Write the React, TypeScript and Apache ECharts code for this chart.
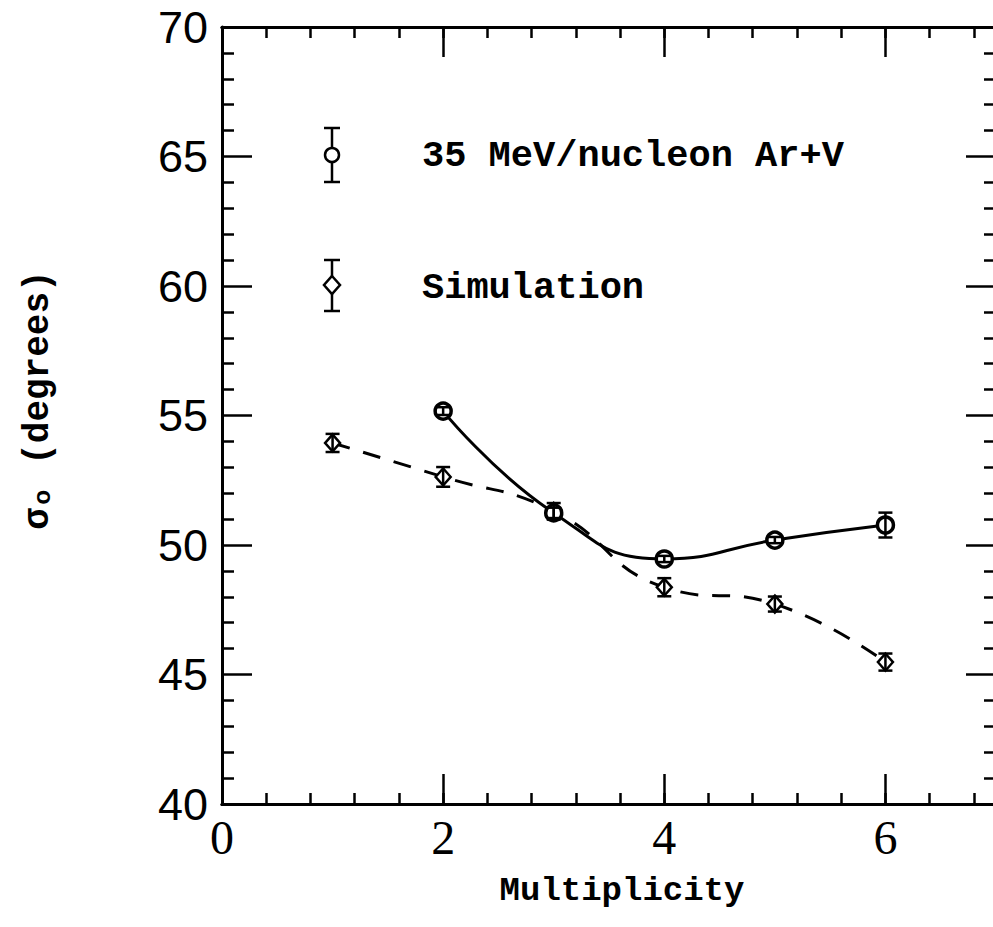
import React, { useEffect, useRef } from "react";
import * as echarts from "echarts";

// Experimental data: 35 MeV/nucleon Ar+V
const expX = [2, 3, 4, 5, 6];
const expY = [55.17, 51.24, 49.46, 50.19, 50.77];
const expErr = [0.15, 0.2, 0.12, 0.12, 0.48];

// Simulation
const simX = [1, 2, 3, 4, 5, 6];
const simY = [53.94, 52.63, 51.3, 48.37, 47.72, 45.48];
const simErr = [0.35, 0.38, 0.32, 0.35, 0.29, 0.33];

const seriesNames = ["35 MeV/nucleon Ar+V", "Simulation"];
const xTitle = "Multiplicity";
const yTitle = "σₒ (degrees)";

const X_MIN = 0;
const X_MAX = 7;
const Y_MIN = 40;
const Y_MAX = 70;

const BLACK = "#000";
const MONO = "'Liberation Mono', 'DejaVu Sans Mono', monospace";

const errRender = (params: any, api: any) => {
  const x = api.value(0);
  const y = api.value(1);
  const e = api.value(2);
  const top = api.coord([x, y + e]);
  const bot = api.coord([x, y - e]);
  const hw = 7;
  const style = { stroke: BLACK, lineWidth: 2.5 };
  return {
    type: "group",
    children: [
      { type: "line", shape: { x1: top[0], y1: top[1], x2: bot[0], y2: bot[1] }, style },
      { type: "line", shape: { x1: top[0] - hw, y1: top[1], x2: top[0] + hw, y2: top[1] }, style },
      { type: "line", shape: { x1: bot[0] - hw, y1: bot[1], x2: bot[0] + hw, y2: bot[1] }, style },
    ],
  };
};

const makeX = (position: "top" | "bottom", interval: number, tickLen: number, labels: boolean, name?: string) => ({
  type: "value",
  position,
  min: X_MIN,
  max: X_MAX,
  interval,
  name: name ?? "",
  nameLocation: "middle",
  nameGap: 70,
  nameTextStyle: {
    fontFamily: MONO,
    fontSize: 34,
    fontWeight: "bold",
    color: BLACK,
    padding: [0, 0, 0, 26],
  },
  axisLine: { show: true, onZero: false, lineStyle: { color: BLACK, width: 3 } },
  axisTick: { show: true, inside: true, length: tickLen, lineStyle: { color: BLACK, width: 2.5 } },
  axisLabel: {
    show: labels,
    showMaxLabel: false,
    margin: 9,
    fontFamily: "'Liberation Serif', 'DejaVu Serif', serif",
    fontSize: 48,
    color: BLACK,
  },
  splitLine: { show: false },
});

const makeY = (position: "left" | "right", labels: boolean) => ({
  type: "value",
  position,
  min: Y_MIN,
  max: Y_MAX,
  interval: 5,
  axisLine: { show: true, onZero: false, lineStyle: { color: BLACK, width: 3 } },
  axisTick: { show: true, inside: true, length: 30, lineStyle: { color: BLACK, width: 2.5 } },
  minorTick: { show: true, splitNumber: 5, length: 12, lineStyle: { color: BLACK, width: 2.5 } },
  axisLabel: {
    show: labels,
    margin: 14,
    fontFamily: "'Liberation Sans', Arial, sans-serif",
    fontSize: 45,
    color: BLACK,
  },
  splitLine: { show: false },
  minorSplitLine: { show: false },
});

const legendGraphic = () => {
  const lx = 332;
  const hw = 8;
  const st = { stroke: BLACK, lineWidth: 2.5 };
  const bar = (y1: number, y2: number) => [
    { type: "line", shape: { x1: lx, y1, x2: lx, y2 }, style: st },
    { type: "line", shape: { x1: lx - hw, y1, x2: lx + hw, y2: y1 }, style: st },
    { type: "line", shape: { x1: lx - hw, y1: y2, x2: lx + hw, y2 }, style: st },
  ];
  const textStyle = (text: string, y: number) => ({
    type: "text",
    x: 422,
    y,
    style: {
      text,
      fill: BLACK,
      fontFamily: MONO,
      fontSize: 37,
      fontWeight: "bold",
      textAlign: "left",
      textVerticalAlign: "middle",
    },
  });
  return [
    ...bar(128, 182),
    { type: "circle", shape: { cx: lx, cy: 155, r: 7 }, style: { fill: "#fff", stroke: BLACK, lineWidth: 2.5 } },
    textStyle(seriesNames[0], 156),
    ...bar(260, 311),
    {
      type: "polygon",
      shape: { points: [[lx, 276], [lx + 8, 285], [lx, 294], [lx - 8, 285]] },
      style: { fill: "#fff", stroke: BLACK, lineWidth: 2.5 },
    },
    textStyle(seriesNames[1], 288),
    {
      type: "text",
      x: 38,
      y: 400,
      rotation: Math.PI / 2,
      style: {
        text: yTitle,
        fill: BLACK,
        fontFamily: MONO,
        fontSize: 36,
        fontWeight: "bold",
        textAlign: "center",
        textVerticalAlign: "middle",
      },
    },
  ];
};

export default function App() {
  const ref = useRef<HTMLDivElement>(null);
  useEffect(() => {
    if (!ref.current) return;
    const chart = echarts.init(ref.current, undefined, { renderer: "svg" });
    const expData = expX.map((x, i) => [x, expY[i]]);
    const simData = simX.map((x, i) => [x, simY[i]]);
    const expErrData = expX.map((x, i) => [x, expY[i], expErr[i]]);
    const simErrData = simX.map((x, i) => [x, simY[i], simErr[i]]);
    chart.setOption({
      animation: false,
      backgroundColor: "#fff",
      grid: { left: 222, top: 27, right: 4, bottom: 123, containLabel: false },
      xAxis: [
        makeX("bottom", 2, 30, true, xTitle),
        makeX("bottom", 0.4, 11, false),
        makeX("top", 2, 30, false),
        makeX("top", 0.4, 11, false),
      ],
      yAxis: [makeY("left", true), makeY("right", false)],
      series: [
        {
          name: seriesNames[1],
          type: "line",
          data: simData,
          smooth: 0.5,
          symbol: "diamond",
          symbolSize: [15, 17],
          itemStyle: { color: "#fff", borderColor: BLACK, borderWidth: 2.5 },
          lineStyle: { color: BLACK, width: 3, type: [18, 14] },
          z: 3,
        },
        {
          name: seriesNames[0],
          type: "line",
          data: expData,
          smooth: 0.5,
          symbol: "circle",
          symbolSize: 16,
          itemStyle: { color: "#fff", borderColor: BLACK, borderWidth: 3.5 },
          lineStyle: { color: BLACK, width: 3 },
          z: 4,
        },
        {
          type: "custom",
          data: simErrData,
          renderItem: errRender,
          encode: { x: 0, y: 1 },
          z: 5,
        },
        {
          type: "custom",
          data: expErrData,
          renderItem: errRender,
          encode: { x: 0, y: 1 },
          z: 6,
        },
      ],
      graphic: legendGraphic(),
    });
    return () => chart.dispose();
  }, []);
  return (
    <div
      style={{
        position: "fixed",
        left: 0,
        top: 0,
        width: 993,
        height: 927,
        overflow: "hidden",
        background: "#fff",
      }}
    >
      <div ref={ref} style={{ width: 1000, height: 927 }} />
    </div>
  );
}
